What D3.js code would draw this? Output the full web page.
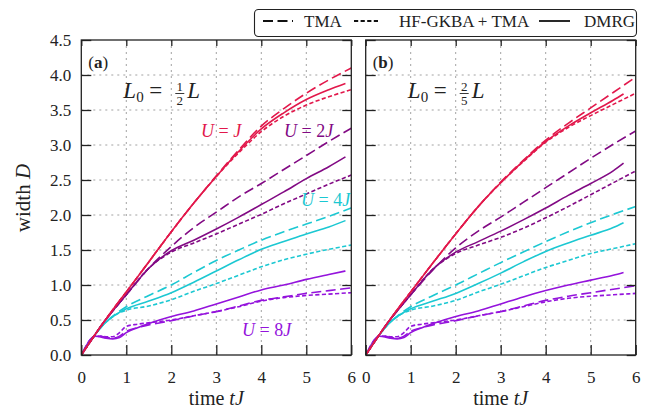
<!DOCTYPE html>
<html><head><meta charset="utf-8">
<script src="https://cdn.jsdelivr.net/npm/d3@7"></script>
<style>
html,body{margin:0;padding:0;background:#fff;}
svg{display:block;}
svg text{font-family:"Liberation Serif","DejaVu Serif",serif;}
</style></head>
<body><svg id="chart" width="652" height="409"></svg>
<script>
// ---------------- data ----------------
const xTicks = [0,1,2,3,4,5,6];
const yTicks = [0,0.5,1,1.5,2,2.5,3,3.5,4,4.5];
const times       = [0,0.25,0.5,0.75,1,1.5,2,2.5,3,3.5,4,4.5,5,5.5,6];
const timesDMRG_a = [0,0.25,0.5,0.75,1,1.5,2,2.5,3,3.5,4,4.5,5,5.5,5.87];
const timesDMRG_b = [0,0.25,0.5,0.75,1,1.5,2,2.5,3,3.5,4,4.5,5,5.5,5.73];
const timesU8       = [0,0.1,0.2,0.3,0.4,0.55,0.7,0.85,1,1.25,1.5,2,2.5,3,3.5,4,4.5,5,5.5,6];
const timesU8DMRG_a = [0,0.1,0.2,0.3,0.4,0.55,0.7,0.85,1,1.25,1.5,2,2.5,3,3.5,4,4.5,5,5.5,5.87];
const timesU8DMRG_b = [0,0.1,0.2,0.3,0.4,0.55,0.7,0.85,1,1.25,1.5,2,2.5,3,3.5,4,4.5,5,5.5,5.73];

// panel (a) L0 = L/2
const a_U1_TMA  = [0,0.24,0.47,0.69,0.90,1.33,1.76,2.17,2.56,2.93,3.27,3.52,3.74,3.93,4.10];
const a_U1_HF   = [0,0.24,0.47,0.69,0.90,1.33,1.76,2.17,2.55,2.89,3.19,3.41,3.57,3.69,3.79];
const a_U1_DMRG = [0,0.24,0.47,0.69,0.90,1.33,1.76,2.17,2.55,2.91,3.23,3.46,3.65,3.79,3.88];
const a_U2_TMA  = [0,0.24,0.47,0.67,0.86,1.24,1.55,1.82,2.04,2.26,2.45,2.65,2.85,3.05,3.24];
const a_U2_HF   = [0,0.24,0.47,0.67,0.86,1.24,1.47,1.60,1.73,1.87,2.01,2.16,2.30,2.44,2.57];
const a_U2_DMRG = [0,0.24,0.47,0.67,0.86,1.24,1.49,1.64,1.80,1.97,2.15,2.33,2.52,2.69,2.83];
const a_U4_TMA  = [0,0.24,0.44,0.58,0.69,0.85,1.00,1.18,1.35,1.50,1.64,1.76,1.87,1.98,2.10];
const a_U4_HF   = [0,0.24,0.44,0.57,0.64,0.70,0.79,0.91,1.02,1.14,1.26,1.36,1.44,1.51,1.57];
const a_U4_DMRG = [0,0.24,0.44,0.57,0.66,0.77,0.89,1.04,1.20,1.36,1.51,1.62,1.73,1.83,1.92];
const a_U8_TMA  = [0,0.12,0.22,0.27,0.27,0.25,0.24,0.27,0.34,0.39,0.43,0.49,0.56,0.62,0.70,0.78,0.83,0.88,0.92,0.96];
const a_U8_HF   = [0,0.12,0.22,0.27,0.27,0.26,0.26,0.32,0.41,0.44,0.46,0.50,0.56,0.62,0.69,0.77,0.82,0.85,0.87,0.89];
const a_U8_DMRG = [0,0.12,0.22,0.27,0.26,0.24,0.23,0.25,0.32,0.39,0.45,0.55,0.63,0.73,0.83,0.93,1.00,1.08,1.15,1.20];

// panel (b) L0 = 2L/5
const b_U1_TMA  = [0,0.24,0.47,0.69,0.90,1.32,1.73,2.12,2.47,2.78,3.07,3.31,3.53,3.75,3.97];
const b_U1_HF   = [0,0.24,0.47,0.69,0.90,1.32,1.73,2.12,2.46,2.76,3.04,3.25,3.42,3.58,3.74];
const b_U1_DMRG = [0,0.24,0.47,0.69,0.90,1.32,1.73,2.12,2.46,2.77,3.05,3.27,3.46,3.64,3.73];
const b_U2_TMA  = [0,0.24,0.47,0.67,0.86,1.22,1.53,1.77,1.97,2.18,2.39,2.60,2.81,3.01,3.20];
const b_U2_HF   = [0,0.24,0.47,0.67,0.86,1.23,1.45,1.57,1.68,1.81,1.96,2.12,2.29,2.46,2.63];
const b_U2_DMRG = [0,0.24,0.47,0.67,0.86,1.23,1.47,1.62,1.77,1.93,2.10,2.28,2.45,2.63,2.74];
const b_U4_TMA  = [0,0.24,0.44,0.58,0.69,0.85,1.00,1.16,1.32,1.47,1.62,1.76,1.89,2.01,2.12];
const b_U4_HF   = [0,0.24,0.44,0.57,0.64,0.70,0.78,0.90,1.01,1.13,1.25,1.35,1.45,1.52,1.59];
const b_U4_DMRG = [0,0.24,0.44,0.57,0.66,0.77,0.88,1.02,1.17,1.33,1.48,1.60,1.71,1.82,1.89];
const b_U8_TMA  = [0,0.12,0.22,0.27,0.27,0.25,0.24,0.27,0.34,0.39,0.43,0.49,0.56,0.62,0.70,0.78,0.84,0.89,0.94,0.99];
const b_U8_HF   = [0,0.12,0.22,0.27,0.27,0.26,0.26,0.32,0.41,0.44,0.46,0.50,0.56,0.62,0.69,0.76,0.81,0.84,0.86,0.88];
const b_U8_DMRG = [0,0.12,0.22,0.27,0.26,0.24,0.23,0.25,0.32,0.39,0.45,0.55,0.63,0.73,0.83,0.92,1.00,1.07,1.14,1.18];

const colors = {U1:"#e2184b", U2:"#820a84", U4:"#1cc8d2", U8:"#9413dc"};
const methods = ["TMA","HF-GKBA + TMA","DMRG"];
const dashes = {"TMA":"10,4.5","HF-GKBA + TMA":"4.2,2.4","DMRG":null};

// ---------------- build ----------------
const FONT = "'Liberation Serif','DejaVu Serif',serif";
const svg = d3.select("#chart").attr("font-family", FONT);
const yTop = 40, yBot = 355;
const panels = [
  {id:"a", x0:81.3, x1:351.3, tmaxD:timesDMRG_a, t8D:timesU8DMRG_a,
   series:{U1:[a_U1_TMA,a_U1_HF,a_U1_DMRG],U2:[a_U2_TMA,a_U2_HF,a_U2_DMRG],U4:[a_U4_TMA,a_U4_HF,a_U4_DMRG],U8:[a_U8_TMA,a_U8_HF,a_U8_DMRG]},
   frac:["1","2"], yLabels:true},
  {id:"b", x0:365.7, x1:635.7, tmaxD:timesDMRG_b, t8D:timesU8DMRG_b,
   series:{U1:[b_U1_TMA,b_U1_HF,b_U1_DMRG],U2:[b_U2_TMA,b_U2_HF,b_U2_DMRG],U4:[b_U4_TMA,b_U4_HF,b_U4_DMRG],U8:[b_U8_TMA,b_U8_HF,b_U8_DMRG]},
   frac:["2","5"], yLabels:false}
];

const y = d3.scaleLinear().domain([0,4.5]).range([yBot,yTop]);

panels.forEach(p=>{
  const x = d3.scaleLinear().domain([0,6]).range([p.x0,p.x1]);
  const g = svg.append("g");
  svg.append("clipPath").attr("id","clip"+p.id).append("rect")
    .attr("x",p.x0).attr("y",yTop).attr("width",p.x1-p.x0).attr("height",yBot-yTop);
  g.selectAll(".gx").data(xTicks.slice(1,-1)).join("line")
    .attr("x1",d=>x(d)).attr("x2",d=>x(d)).attr("y1",yTop).attr("y2",yBot)
    .attr("stroke","#8a8a8a").attr("stroke-width",0.8).attr("stroke-dasharray","2,4");
  g.selectAll(".gy").data(yTicks.slice(1,-1)).join("line")
    .attr("x1",p.x0).attr("x2",p.x1).attr("y1",d=>y(d)).attr("y2",d=>y(d))
    .attr("stroke","#8a8a8a").attr("stroke-width",0.8).attr("stroke-dasharray","2,4");

  const lines = g.append("g").attr("clip-path",`url(#clip${p.id})`);
  ["U8","U4","U2","U1"].forEach(u=>{
    const arrs = p.series[u];
    arrs.forEach((vals,mi)=>{
      let ts;
      if(u==="U8") ts = mi===2 ? p.t8D : timesU8;
      else ts = mi===2 ? p.tmaxD : times;
      const pts = ts.map((t,i)=>[t,vals[i]]);
      const line = d3.line().x(d=>x(d[0])).y(d=>y(d[1])).curve(d3.curveMonotoneX);
      lines.append("path").attr("d",line(pts)).attr("fill","none")
        .attr("stroke",colors[u]).attr("stroke-width",1.6)
        .attr("stroke-dasharray",dashes[methods[mi]]);
    });
  });

  const ax = svg.append("g").attr("class","axes");
  ax.append("g").attr("transform",`translate(${p.x0},0)`)
    .call(d3.axisLeft(y).tickValues(yTicks).tickSize(-10).tickPadding(10)
      .tickFormat(p.yLabels ? d3.format(".1f") : ""));
  ax.append("g").attr("transform",`translate(${p.x1},0)`)
    .call(d3.axisRight(y).tickValues(yTicks).tickSize(-9).tickFormat(""));
  ax.append("g").attr("transform",`translate(0,${yBot})`)
    .call(d3.axisBottom(x).tickValues(xTicks).tickSize(-10).tickPadding(16).tickFormat(d3.format("d")));
  ax.append("g").attr("transform",`translate(0,${yTop})`)
    .call(d3.axisTop(x).tickValues(xTicks).tickSize(-6).tickFormat(""));
  ax.selectAll("g").attr("font-family", FONT);
  ax.selectAll(".domain").remove();
  ax.selectAll(".tick line").attr("stroke","#222").attr("stroke-width",1.3);
  ax.selectAll(".tick text").attr("font-size",17).attr("fill","#222");
  svg.append("rect").attr("x",p.x0).attr("y",yTop).attr("width",p.x1-p.x0).attr("height",yBot-yTop)
    .attr("fill","none").attr("stroke","#222").attr("stroke-width",1.3);

  const xl = svg.append("text").attr("x",(p.x0+p.x1)/2).attr("y",405)
    .attr("text-anchor","middle").attr("font-size",20).attr("fill","#222");
  xl.append("tspan").text("time ");
  xl.append("tspan").attr("font-style","italic").text("tJ");

  const tag = svg.append("text").attr("x",p.x0+7).attr("y",68).attr("font-size",17).attr("fill","#222");
  tag.append("tspan").text("(");
  tag.append("tspan").attr("font-weight","bold").text(p.id);
  tag.append("tspan").text(")");

  const ox = p.x0;
  const eq = svg.append("g").attr("fill","#222");
  eq.append("text").attr("x",ox+42).attr("y",98).attr("font-size",23).attr("font-style","italic").text("L");
  eq.append("text").attr("x",ox+55).attr("y",102).attr("font-size",15).text("0");
  eq.append("text").attr("x",ox+68).attr("y",98).attr("font-size",23).text("=");
  eq.append("text").attr("x",ox+98.5).attr("y",91).attr("font-size",13).attr("text-anchor","middle").text(p.frac[0]);
  eq.append("line").attr("x1",ox+94).attr("x2",ox+103).attr("y1",93.5).attr("y2",93.5).attr("stroke","#222").attr("stroke-width",0.9);
  eq.append("text").attr("x",ox+98.5).attr("y",105).attr("font-size",13).attr("text-anchor","middle").text(p.frac[1]);
  eq.append("text").attr("x",ox+106).attr("y",98).attr("font-size",23).attr("font-style","italic").text("L");
});

const yl = svg.append("text").attr("transform","translate(30,198) rotate(-90)")
  .attr("text-anchor","middle").attr("font-size",21).attr("fill","#222");
yl.append("tspan").text("width ");
yl.append("tspan").attr("font-style","italic").text("D");

const uLabels = [
  {u:"U1", x:201, y:137, coef:""},
  {u:"U2", x:284, y:137, coef:"2"},
  {u:"U4", x:301, y:206, coef:"4"},
  {u:"U8", x:242, y:336, coef:"8"}
];
uLabels.forEach(l=>{
  const t = svg.append("text").attr("x",l.x).attr("y",l.y).attr("font-size",18).attr("fill",colors[l.u]);
  t.append("tspan").attr("font-style","italic").text("U");
  t.append("tspan").text(" = " + l.coef);
  t.append("tspan").attr("font-style","italic").text("J");
});

const lg = svg.append("g");
lg.append("rect").attr("x",254.5).attr("y",9.5).attr("width",382).attr("height",27).attr("rx",4)
  .attr("fill","#fff").attr("stroke","#222").attr("stroke-width",1.1);
const legItems = [
  {m:"TMA", x1:263, x2:293, tx:304},
  {m:"HF-GKBA + TMA", x1:354, x2:380, tx:399},
  {m:"DMRG", x1:539, x2:570, tx:584}
];
legItems.forEach(it=>{
  lg.append("line").attr("x1",it.x1).attr("x2",it.x2).attr("y1",21).attr("y2",21)
    .attr("stroke","#111").attr("stroke-width",1.8).attr("stroke-dasharray",dashes[it.m]);
  lg.append("text").attr("x",it.tx).attr("y",27).attr("font-size",17).attr("fill","#222").text(it.m);
});
svg.selectAll("text").attr("font-family", FONT);
</script></body></html>
